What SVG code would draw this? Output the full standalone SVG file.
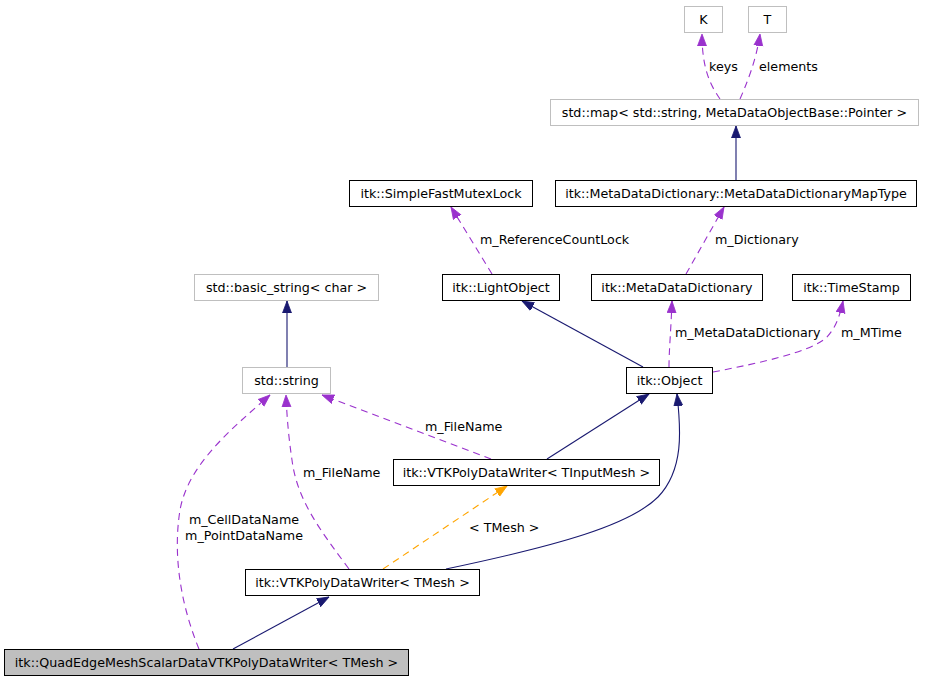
<svg xmlns="http://www.w3.org/2000/svg" width="927" height="683" viewBox="0 0 927 683">
<style>
text{font-family:"DejaVu Sans","Liberation Sans",sans-serif;font-size:12.7px;fill:#000}
.node text{text-anchor:middle}
.b{fill:#fff;stroke:#000;stroke-width:1}
.g{fill:#fff;stroke:#bfbfbf;stroke-width:1}
.q{fill:#bfbfbf;stroke:#000;stroke-width:1}
.e{fill:none;stroke-width:1.1}
.inh{stroke:#191970;marker-end:url(#an)}
.use{stroke:#9a32cd;stroke-dasharray:7,5;marker-end:url(#ap)}
.tpl{stroke:#ffa500;stroke-dasharray:7,5;marker-end:url(#ao)}
</style>
<defs>
<marker id="an" markerUnits="userSpaceOnUse" markerWidth="14" markerHeight="12" refX="12" refY="5" orient="auto"><path d="M0,0.5 L12,5 L0,9.5 z" fill="#191970" stroke="#191970" stroke-width="0.8"/></marker>
<marker id="ap" markerUnits="userSpaceOnUse" markerWidth="14" markerHeight="12" refX="12" refY="5" orient="auto"><path d="M0,0.5 L12,5 L0,9.5 z" fill="#9a32cd" stroke="#9a32cd" stroke-width="0.8"/></marker>
<marker id="ao" markerUnits="userSpaceOnUse" markerWidth="14" markerHeight="12" refX="12" refY="5" orient="auto"><path d="M0,0.5 L12,5 L0,9.5 z" fill="#ffa500" stroke="#ffa500" stroke-width="0.8"/></marker>
</defs>
<rect width="927" height="683" fill="#fff"/>
<g id="edges">
<path class="e use" d="M720,99 C711,86 702,70 702,34"/>
<text x="709" y="71">keys</text>
<path class="e use" d="M740,99 C746,85 756,62 760,34"/>
<text x="759" y="71">elements</text>
<path class="e inh" d="M736,180 L736,126"/>
<path class="e use" d="M686,274 L724,207"/>
<text x="715" y="244">m_Dictionary</text>
<path class="e use" d="M492,274 L451,207"/>
<text x="480" y="244">m_ReferenceCountLock</text>
<path class="e inh" d="M643,367 L522,301"/>
<path class="e use" d="M669,367 C669,350 671,330 672,301"/>
<text x="675" y="337">m_MetaDataDictionary</text>
<path class="e use" d="M713,372 C760,363 810,352 826,338 C836,328 840,315 843,301"/>
<text x="841" y="337">m_MTime</text>
<path class="e inh" d="M287,367 L287,301"/>
<path class="e use" d="M491,459 L322,395"/>
<text x="425" y="431">m_FileName</text>
<path class="e inh" d="M547,459 L649,394"/>
<path class="e inh" d="M446,569 C560,545 630,525 658,497 C684,470 681,430 677,394"/>
<path class="e tpl" d="M383,569 L507,486"/>
<text x="469" y="532">&lt; TMesh &gt;</text>
<path class="e use" d="M349,569 C320,530 297,500 292,460 C289,440 287,420 286,395"/>
<text x="303" y="477">m_FileName</text>
<path class="e use" d="M199,649 C183,610 172,560 180,510 C188,465 230,430 270,395"/>
<text x="244" y="524" text-anchor="middle">m_CellDataName</text>
<text x="244" y="540" text-anchor="middle">m_PointDataName</text>
<path class="e inh" d="M233,649 L329,597"/>
</g>
<g id="n_K" class="node"><rect class="g" x="684.5" y="6.5" width="38" height="26"/><text x="703.5" y="24">K</text></g>
<g id="n_T" class="node"><rect class="g" x="748.5" y="6.5" width="38" height="26"/><text x="767.5" y="24">T</text></g>
<g id="n_map" class="node"><rect class="g" x="550.5" y="99.5" width="368" height="26"/><text x="734.5" y="117">std::map&lt; std::string, MetaDataObjectBase::Pointer &gt;</text></g>
<g id="n_maptype" class="node"><rect class="b" x="555.5" y="180.5" width="361" height="26"/><text x="736" y="198">itk::MetaDataDictionary::MetaDataDictionaryMapType</text></g>
<g id="n_mutex" class="node"><rect class="b" x="349.5" y="180.5" width="183" height="26"/><text x="441" y="198">itk::SimpleFastMutexLock</text></g>
<g id="n_basic" class="node"><rect class="g" x="194.5" y="274.5" width="184" height="26"/><text x="286.5" y="292">std::basic_string&lt; char &gt;</text></g>
<g id="n_light" class="node"><rect class="b" x="442.5" y="274.5" width="117" height="26"/><text x="501" y="292">itk::LightObject</text></g>
<g id="n_mdd" class="node"><rect class="b" x="591.5" y="274.5" width="171" height="26"/><text x="677" y="292">itk::MetaDataDictionary</text></g>
<g id="n_ts" class="node"><rect class="b" x="792.5" y="274.5" width="118" height="26"/><text x="851.5" y="292">itk::TimeStamp</text></g>
<g id="n_string" class="node"><rect class="g" x="242.5" y="367.5" width="88" height="26"/><text x="286.5" y="385">std::string</text></g>
<g id="n_object" class="node"><rect class="b" x="626.5" y="367.5" width="86" height="26"/><text x="669.5" y="385">itk::Object</text></g>
<g id="n_vtkin" class="node"><rect class="b" x="393.5" y="459.5" width="266" height="26"/><text x="526.5" y="477">itk::VTKPolyDataWriter&lt; TInputMesh &gt;</text></g>
<g id="n_vtkmesh" class="node"><rect class="b" x="245.5" y="569.5" width="234" height="26"/><text x="362.5" y="587">itk::VTKPolyDataWriter&lt; TMesh &gt;</text></g>
<g id="n_quad" class="node"><rect class="q" x="4.5" y="649.5" width="404" height="26"/><text x="206.5" y="667">itk::QuadEdgeMeshScalarDataVTKPolyDataWriter&lt; TMesh &gt;</text></g>
</svg>
